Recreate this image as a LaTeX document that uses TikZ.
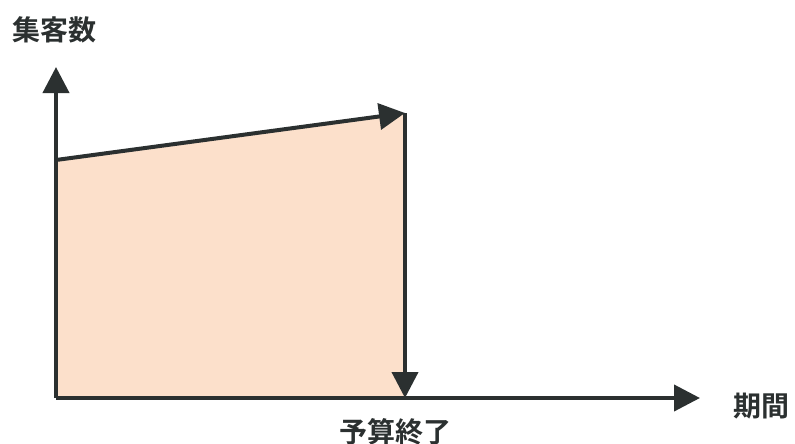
\documentclass[tikz,border=0pt]{standalone}
\usepackage{fontspec}
\newfontfamily\cjk{Noto Sans CJK JP}[BoldFont={Noto Sans CJK JP Bold}]
\usetikzlibrary{arrows.meta}
\definecolor{ink}{HTML}{2B3030}
\definecolor{peach}{HTML}{FCE0CB}
\tikzset{
  axisline/.style={draw=ink, line width=4pt, -{Triangle[length=26pt,width=26pt]}},
  lbl/.style={font=\cjk\bfseries\fontsize{28}{28}\selectfont, text=ink, inner sep=0pt, anchor=base}
}
\begin{document}
\begin{tikzpicture}[x=1pt,y=-1pt]
\useasboundingbox (0,0) rectangle (795,444);
\coordinate (O) at (56,398);
\coordinate (ytop) at (56,67);
\coordinate (xend) at (700,398);
\coordinate (A) at (56,160);
\coordinate (B) at (405,113);
\coordinate (C) at (405,398);
\fill[peach] (O) -- (A) -- (B) -- (C) -- cycle;
\draw[axisline] (O) -- (ytop);
\draw[axisline] (O) -- (xend);
\draw[axisline] (A) -- (B);
\draw[axisline] (B) -- (C);
\node[lbl] (ylab) at (54.5,41) {集客数};
\node[lbl] (xlab) at (761.5,416) {期間};
\node[lbl] (end) at (395,442) {予算終了};
\end{tikzpicture}
\end{document}
